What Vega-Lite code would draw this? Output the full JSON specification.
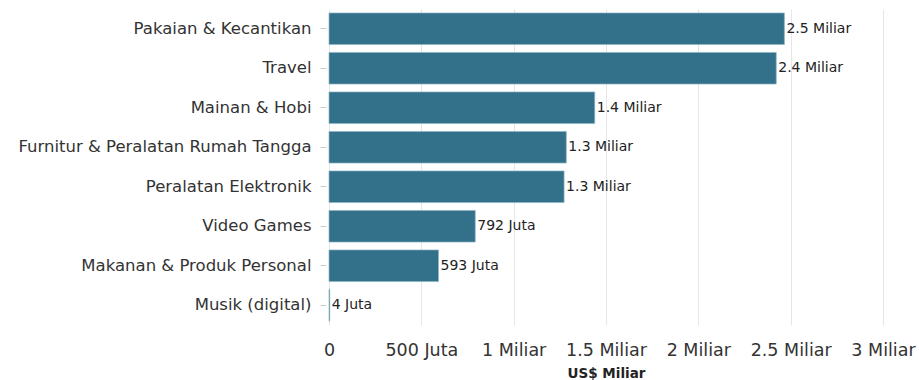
{
  "$schema": "https://vega.github.io/schema/vega-lite/v6.json",
  "width": 554,
  "height": 316,
  "autosize": {"type": "none"},
  "padding": {"left": 329, "top": 9, "right": 36, "bottom": 55},
  "background": "white",
  "config": {
    "view": {"stroke": null},
    "font": "DejaVu Sans"
  },
  "data": {
    "values": [
      {"kategori": "Pakaian & Kecantikan", "nilai": 2.466, "label": "2.5 Miliar"},
      {"kategori": "Travel", "nilai": 2.422, "label": "2.4 Miliar"},
      {"kategori": "Mainan & Hobi", "nilai": 1.439, "label": "1.4 Miliar"},
      {"kategori": "Furnitur & Peralatan Rumah Tangga", "nilai": 1.285, "label": "1.3 Miliar"},
      {"kategori": "Peralatan Elektronik", "nilai": 1.273, "label": "1.3 Miliar"},
      {"kategori": "Video Games", "nilai": 0.792, "label": "792 Juta"},
      {"kategori": "Makanan & Produk Personal", "nilai": 0.593, "label": "593 Juta"},
      {"kategori": "Musik (digital)", "nilai": 0.004, "label": "4 Juta"}
    ]
  },
  "encoding": {
    "y": {
      "field": "kategori",
      "type": "nominal",
      "sort": null,
      "scale": {"paddingInner": 0.2, "paddingOuter": 0.1},
      "axis": {
        "title": null,
        "domain": false,
        "grid": false,
        "offset": 3,
        "ticks": true,
        "tickSize": 6,
        "tickColor": "#cccccc",
        "labelPadding": 9,
        "labelFont": "DejaVu Sans",
        "labelFontSize": 16.5,
        "labelColor": "#333333",
        "labelLimit": 400
      }
    },
    "x": {
      "field": "nilai",
      "type": "quantitative",
      "scale": {"domain": [0, 3], "nice": false},
      "axis": {
        "title": "US$ Miliar",
        "titleFont": "DejaVu Sans",
        "titleFontSize": 13.5,
        "titleFontWeight": "bold",
        "titleColor": "#222222",
        "titlePadding": 8,
        "values": [0, 0.5, 1, 1.5, 2, 2.5, 3],
        "labelExpr": "datum.value == 0 ? '0' : datum.value == 0.5 ? '500 Juta' : format(datum.value, '~g') + ' Miliar'",
        "domain": false,
        "ticks": false,
        "grid": true,
        "gridColor": "#e6e6e6",
        "gridWidth": 1,
        "labelPadding": 16,
        "labelFont": "DejaVu Sans",
        "labelFontSize": 17.5,
        "labelColor": "#333333",
        "labelFlush": false
      }
    }
  },
  "layer": [
    {
      "mark": {"type": "bar", "color": "#33708a", "stroke": "#8fb6c6", "strokeWidth": 1, "strokeOpacity": 0.7}
    },
    {
      "mark": {"type": "text", "align": "left", "baseline": "middle", "dx": 2, "font": "DejaVu Sans", "fontSize": 14, "color": "#222222"},
      "encoding": {"text": {"field": "label"}}
    }
  ]
}
